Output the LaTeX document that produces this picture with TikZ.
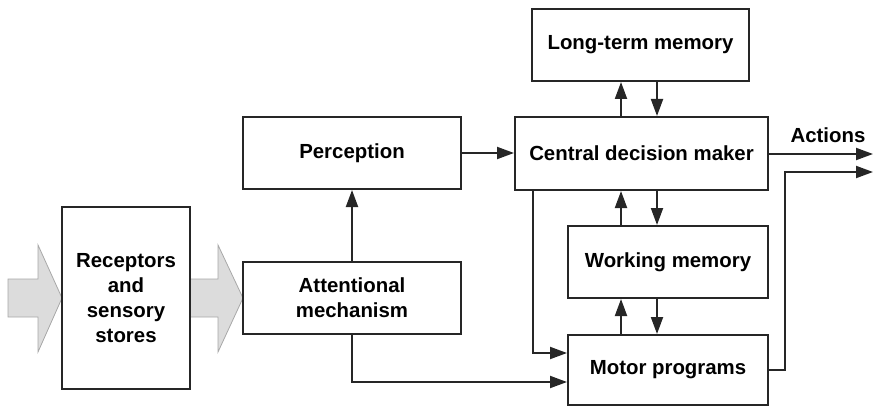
\documentclass[tikz,border=0pt]{standalone}
\usepackage{fontspec}
\setmainfont{Liberation Sans}
\usetikzlibrary{arrows.meta}
\definecolor{arrowgrey}{HTML}{DCDCDC}
\definecolor{arrowedge}{HTML}{A8A8A8}
\tikzset{
  blockbox/.style={draw=black!85, line width=2pt, fill=white, align=center, inner sep=0pt,
    font=\fontsize{20.4}{25}\selectfont\bfseries},
  conn/.style={draw=black!85, line width=2pt, -{Triangle[length=17pt,width=12pt]}},
  bigarrow/.style={fill=arrowgrey, draw=arrowedge, line width=0.8pt, line join=miter},
  lbl/.style={font=\fontsize{20.4}{25}\selectfont\bfseries, inner sep=0pt}
}
\begin{document}
\begin{tikzpicture}[x=1pt,y=-1pt]
\useasboundingbox (0,0) rectangle (874,406);
% grey input arrows
\path[bigarrow] (8,279) -- (38,279) -- (38,245) -- (62,298) -- (38,352) -- (38,317) -- (8,317) -- cycle;
\path[bigarrow] (190,279) -- (218,279) -- (218,245) -- (243,298) -- (218,352) -- (218,317) -- (190,317) -- cycle;
% blocks
\node[blockbox, minimum width=217pt, minimum height=72pt] (ltm) at (640.5,45) {Long-term memory};
\node[blockbox, minimum width=253pt, minimum height=73pt] (cdm) at (641.5,153.5) {Central decision maker};
\node[blockbox, minimum width=218pt, minimum height=72pt] (perc) at (352,153) {Perception};
\node[blockbox, minimum width=218pt, minimum height=72pt] (att) at (352,298) {Attentional\\mechanism};
\node[blockbox, minimum width=128pt, minimum height=182pt] (rec) at (126,298) {Receptors\\and\\sensory\\stores};
\node[blockbox, minimum width=200pt, minimum height=72pt] (wm) at (668,262) {Working memory};
\node[blockbox, minimum width=200pt, minimum height=70pt] (mot) at (668,370) {Motor programs};
% output coordinates
\coordinate (out1) at (873,154);
\coordinate (out2) at (873,172);
\coordinate (bend) at (785,172);
% connectors
\draw[conn] (621,0 |- cdm.north) -- (621,0 |- ltm.south);
\draw[conn] (657,0 |- ltm.south) -- (657,0 |- cdm.north);
\draw[conn] (621,0 |- wm.north) -- (621,0 |- cdm.south);
\draw[conn] (657,0 |- cdm.south) -- (657,0 |- wm.north);
\draw[conn] (621,0 |- mot.north) -- (621,0 |- wm.south);
\draw[conn] (657,0 |- wm.south) -- (657,0 |- mot.north);
\draw[conn] (perc.east) -- (cdm.west |- perc.east);
\draw[conn] (att.north) -- (perc.south);
\draw[conn] (att.south) |- (mot.west |- 0,382);
\draw[conn] (533,0 |- cdm.south) |- (mot.west |- 0,353);
\draw[conn] (cdm.east |- out1) -- (out1);
\draw[conn] (mot.east) -| (bend) -- (out2);
\node[lbl] (act) at (828,135) {Actions};
\end{tikzpicture}
\end{document}
